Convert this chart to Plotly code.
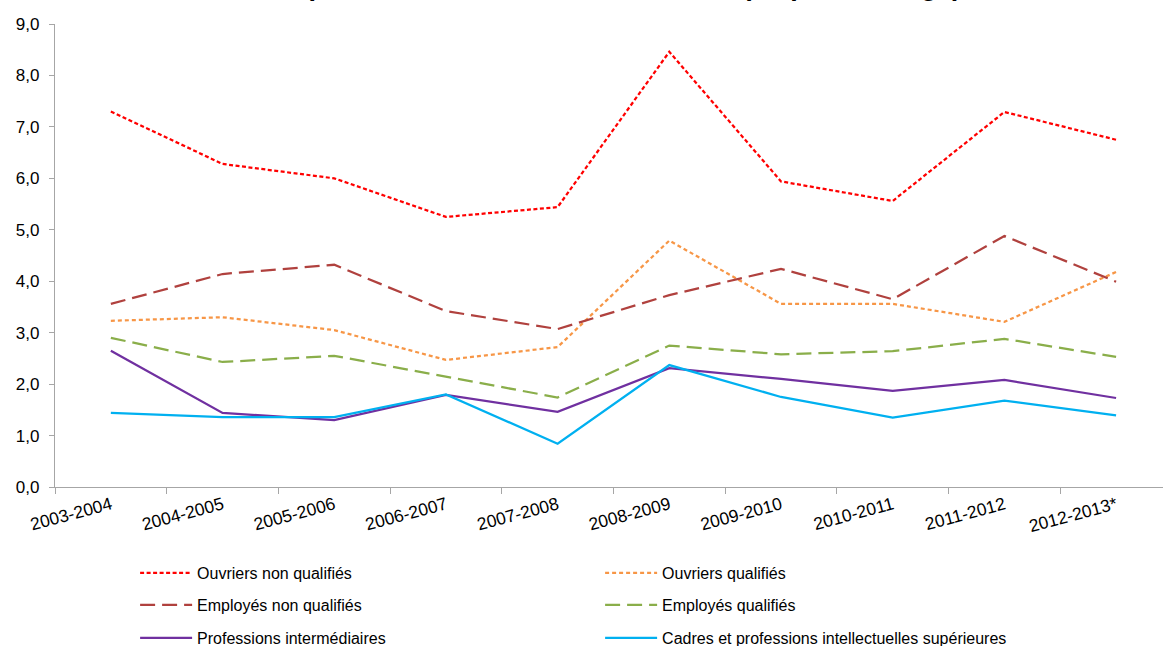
import plotly.graph_objects as go

categories = ["2003-2004", "2004-2005", "2005-2006", "2006-2007", "2007-2008",
              "2008-2009", "2009-2010", "2010-2011", "2011-2012", "2012-2013*"]

ouvriers_non_qualifies = [7.30, 6.28, 6.00, 5.25, 5.44, 8.46, 5.94, 5.56, 7.29, 6.75]
ouvriers_qualifies = [3.23, 3.30, 3.05, 2.47, 2.72, 4.79, 3.56, 3.56, 3.21, 4.18]
employes_non_qualifies = [3.56, 4.14, 4.32, 3.42, 3.07, 3.73, 4.24, 3.65, 4.88, 3.99]
employes_qualifies = [2.90, 2.43, 2.55, 2.14, 1.74, 2.75, 2.58, 2.64, 2.88, 2.53]
professions_intermediaires = [2.65, 1.44, 1.30, 1.79, 1.46, 2.31, 2.10, 1.87, 2.08, 1.73]
cadres = [1.44, 1.36, 1.36, 1.80, 0.84, 2.37, 1.75, 1.35, 1.68, 1.39]

y_ticks = [0, 1, 2, 3, 4, 5, 6, 7, 8, 9]

title_text = "Taux de personnes licenciées selon la CS (en pourcentage)"

FONT = "Arial, Liberation Sans, sans-serif"

series = [
    ("Ouvriers non qualifiés", ouvriers_non_qualifies, "#FF0000", "4px,2.5px", "legend"),
    ("Ouvriers qualifiés", ouvriers_qualifies, "#F79646", "4px,3px", "legend"),
    ("Employés non qualifiés", employes_non_qualifies, "#B0413E", "15px,7px", "legend2"),
    ("Employés qualifiés", employes_qualifies, "#8AAE4A", "15px,7px", "legend2"),
    ("Professions intermédiaires", professions_intermediaires, "#7030A0", "solid", "legend3"),
    ("Cadres et professions intellectuelles supérieures", cadres, "#00B0F0", "solid", "legend3"),
]

fig = go.Figure()
for name, vals, color, dash, leg in series:
    fig.add_trace(go.Scatter(
        x=categories, y=vals, mode="lines", name=name,
        line=dict(color=color, width=2.25, dash=dash),
        legend=leg,
    ))

H = 463.0
def py(p):
    return (487.0 - p) / H

def cy(p):
    return (646.0 - p) / 646.0

leg_common = dict(orientation="h", xanchor="left", yanchor="middle", yref="container",
                  x=0.0723, entrywidth=398, entrywidthmode="pixels",
                  itemwidth=52, font=dict(family=FONT, size=16, color="#000000"),
                  bgcolor="rgba(0,0,0,0)")

fig.add_annotation(
    text="<b>" + title_text + "</b>", xref="paper", yref="paper",
    x=(581 - 55) / 1108.0, y=py(3), xanchor="center", yanchor="bottom",
    showarrow=False, font=dict(family=FONT, size=27, color="#000000"),
)

fig.update_layout(
    width=1163, height=646,
    paper_bgcolor="white", plot_bgcolor="white",
    margin=dict(l=55, r=0, t=24, b=159),
    separators=", ",
    font=dict(family=FONT, size=17, color="#000000"),
    xaxis=dict(
        type="category", range=[-0.5, 9.42], automargin=False,
        showline=True, linecolor="#A6A6A6", linewidth=1.3,
        ticks="outside", tickson="boundaries", ticklen=6, tickcolor="#A6A6A6",
        tickangle=-15, showgrid=False, zeroline=False,
        tickfont=dict(family=FONT, size=17.5, color="#000000"),
    ),
    yaxis=dict(
        range=[0, 9], tickvals=y_ticks, tickformat=".1f", automargin=False,
        showline=True, linecolor="#A6A6A6", linewidth=1.3,
        ticks="outside", ticklen=5, tickcolor="#A6A6A6",
        showgrid=False, zeroline=False, ticklabelstandoff=6,
        tickfont=dict(family=FONT, size=17, color="#000000"),
    ),
    legend=dict(y=cy(573), **leg_common),
    legend2=dict(y=cy(605), **leg_common),
    legend3=dict(y=cy(638), **leg_common),
)

fig.write_html("out.html", config={"displayModeBar": False},
               post_script="document.body.style.margin='0px';document.body.style.overflow='hidden';")
